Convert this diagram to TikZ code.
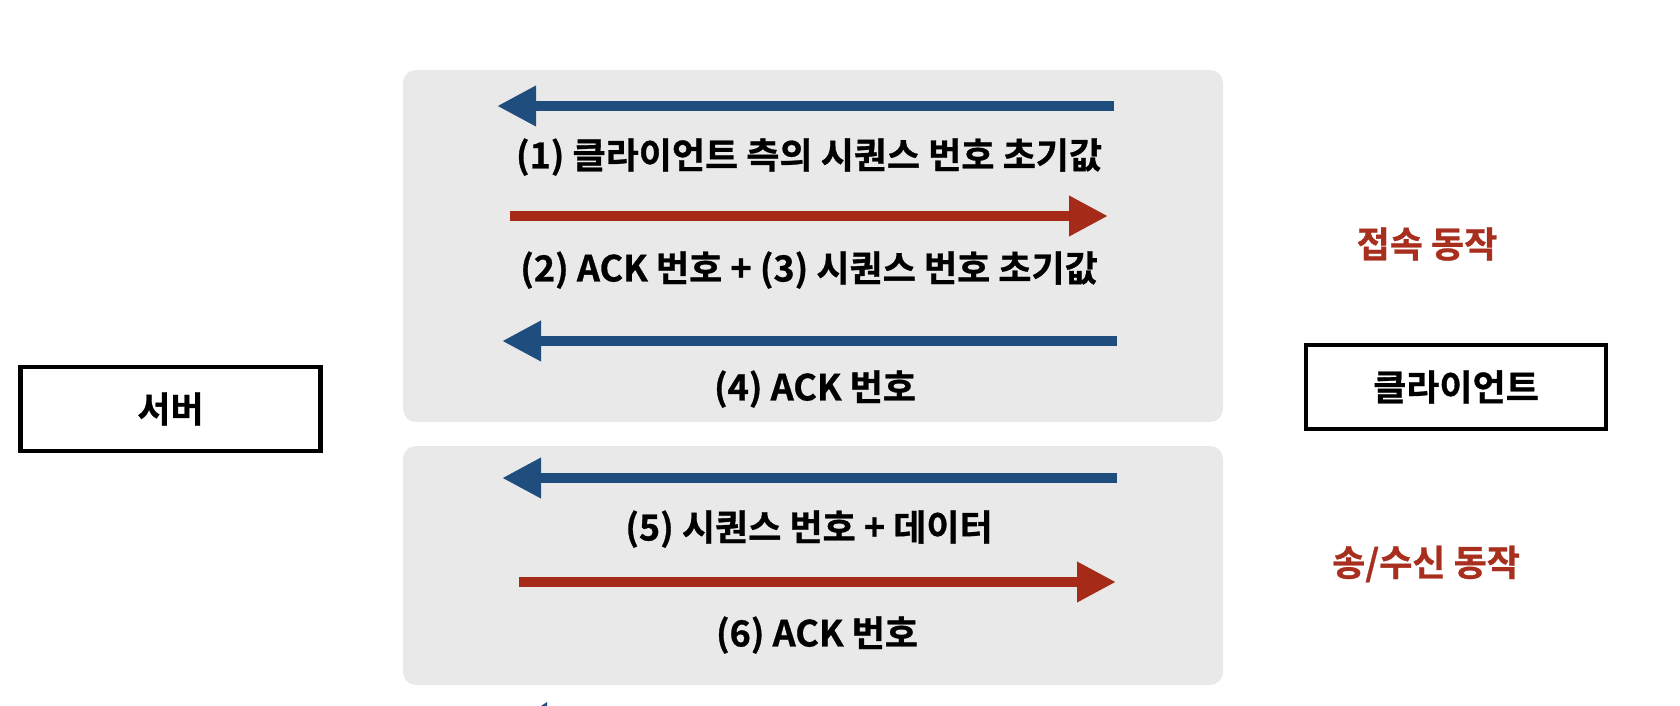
\documentclass[tikz,border=0pt]{standalone}
\usepackage{fontspec}
\newfontfamily\krfont{Noto Sans CJK KR Bold}[FakeBold=0.8]
\usetikzlibrary{arrows.meta}
\definecolor{arrblue}{RGB}{31,78,126}
\definecolor{arrred}{RGB}{166,42,24}
\definecolor{lblred}{RGB}{168,46,30}
\definecolor{panel}{RGB}{233,233,233}
\tikzset{
  panelbox/.style={fill=panel, rounded corners=13pt},
  endbox/.style={draw=black, line width=4.5pt, minimum width=300pt, minimum height=84pt, inner sep=0pt, font=\krfont\fontsize{36}{42}\selectfont},
  msgarrow/.style={line width=10pt, -{Triangle[length=39pt,width=38pt]}},
  bluearrow/.style={msgarrow, draw=arrblue, arrblue},
  redarrow/.style={msgarrow, draw=arrred, arrred},
  msglabel/.style={font=\krfont\fontsize{36}{42}\selectfont, text=black, inner sep=0pt},
  phaselabel/.style={font=\krfont\fontsize{36}{42}\selectfont, text=lblred, inner sep=0pt}
}
\begin{document}
\begin{tikzpicture}[x=1pt,y=-1pt]
\useasboundingbox (0,0) rectangle (1680,706);
% panels
\fill[panelbox] (403,70) rectangle (1223,422);
\fill[panelbox] (403,446) rectangle (1223,685);
% end boxes
\node[endbox] (server) at (170.5,409) {서버};
\node[endbox] (client) at (1456,387) {클라이언트};
% phase labels
\node[phaselabel] (connect) at (1427,244) {접속 동작};
\node[phaselabel] (transfer) at (1426,564) {송/수신 동작};
% arrow endpoints
\coordinate (a1s) at (1114,106); \coordinate (a1e) at (497,106);
\coordinate (a2s) at (510,216); \coordinate (a2e) at (1108,216);
\coordinate (a3s) at (1117,341); \coordinate (a3e) at (502,341);
\coordinate (a5s) at (1117,478); \coordinate (a5e) at (502,478);
\coordinate (a6s) at (519,582); \coordinate (a6e) at (1116,582);
\draw[bluearrow] (a1s) -- (a1e);
\draw[redarrow] (a2s) -- (a2e);
\draw[bluearrow] (a3s) -- (a3e);
\draw[bluearrow] (a5s) -- (a5e);
\draw[redarrow] (a6s) -- (a6e);
% labels
\node[msglabel] (l1) at (809,157) {(1) 클라이언트 측의 시퀀스 번호 초기값};
\node[msglabel] (l2) at (809,270) {(2) ACK 번호 + (3) 시퀀스 번호 초기값};
\node[msglabel] (l4) at (815,389) {(4) ACK 번호};
\node[msglabel] (l5) at (809,529) {(5) 시퀀스 번호 + 데이터};
\node[msglabel] (l6) at (817,635) {(6) ACK 번호};
% cut-off arrow fragment at the bottom edge
\fill[arrblue] (541,706) -- (547,702) -- (547,706) -- cycle;
\end{tikzpicture}
\end{document}
